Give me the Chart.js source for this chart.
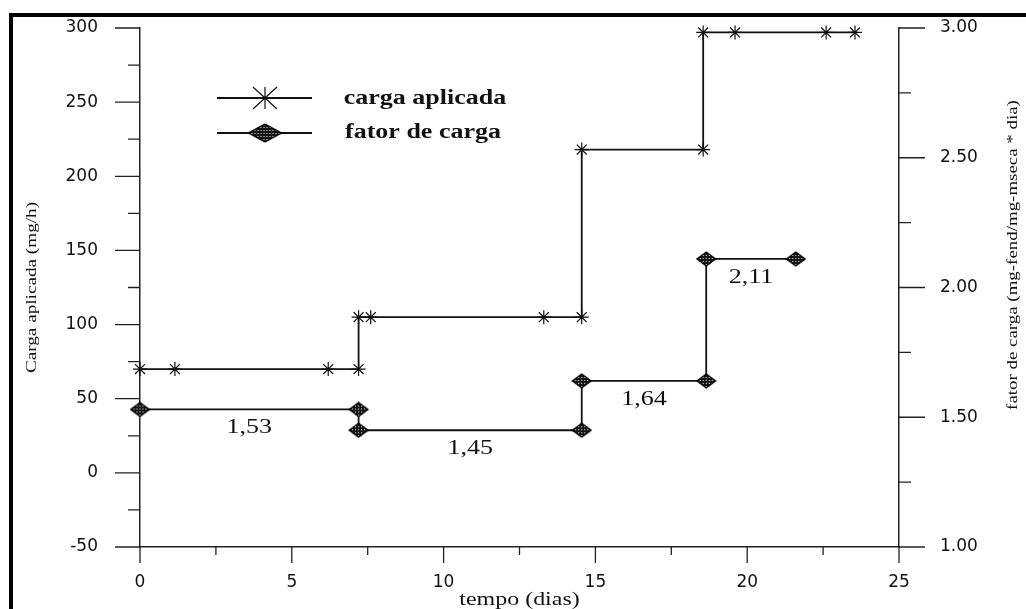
<!DOCTYPE html>
<html>
<head>
<meta charset="utf-8">
<script src="https://cdn.jsdelivr.net/npm/chart.js@4"></script>
<style>
  html, body { margin: 0; padding: 0; background: #fff; }
</style>
</head>
<body>
<canvas id="grafico" width="1026" height="609"></canvas>
<script>
// tempo (dias) e carga aplicada (mg/h)
const diasCarga = [0, 1.15, 6.2, 7.2, 7.2, 7.6, 13.3, 14.55, 14.55, 18.55, 18.55, 19.6, 22.6, 23.55];
const cargaAplicada = [70, 70, 70, 70, 105, 105, 105, 105, 218, 218, 297, 297, 297, 297];

// tempo (dias) e fator de carga
const diasFator = [0, 7.2, 7.2, 14.55, 14.55, 18.65, 18.65, 21.6];
const fatorCarga = [1.53, 1.53, 1.45, 1.45, 1.64, 1.64, 2.11, 2.11];

const ticksTempo = [0, 5, 10, 15, 20, 25];
const ticksCarga = [-50, 0, 50, 100, 150, 200, 250, 300];
const ticksFator = [1.0, 1.5, 2.0, 2.5, 3.0];

const PRETO = '#111';
const fonteNumeros = { family: 'DejaVu Sans', size: 17 };

// hachura do losango: fundo escuro com pontinhos claros
function padraoPontilhado() {
  const c = document.createElement('canvas');
  c.width = 3; c.height = 3;
  const g = c.getContext('2d');
  g.fillStyle = '#151515';
  g.fillRect(0, 0, 3, 3);
  g.fillStyle = '#e8e8e8';
  g.fillRect(1, 1, 1, 1);
  return c;
}

function losango(w, h) {
  const c = document.createElement('canvas');
  c.width = w + 2; c.height = h + 2;
  const g = c.getContext('2d');
  g.beginPath();
  g.moveTo(c.width / 2, 1);
  g.lineTo(c.width - 1, c.height / 2);
  g.lineTo(c.width / 2, c.height - 1);
  g.lineTo(1, c.height / 2);
  g.closePath();
  g.fillStyle = g.createPattern(padraoPontilhado(), 'repeat');
  g.fill();
  g.lineWidth = 1.2;
  g.strokeStyle = '#000';
  g.stroke();
  return c;
}

const marcaFator = losango(19, 14);
const marcaFatorLegenda = losango(33, 18);

function pontos(xs, ys) {
  return xs.map((x, i) => ({ x: x, y: ys[i] }));
}

function meios(lista) {
  const r = [];
  for (let i = 0; i < lista.length - 1; i++) r.push((lista[i] + lista[i + 1]) / 2);
  return r;
}

// texto esticado na horizontal, como nas letras do original impresso
function texto(ctx, s, x, y, fonte, esticar, angulo, base) {
  ctx.save();
  ctx.translate(x, y);
  ctx.rotate(angulo || 0);
  ctx.scale(esticar, 1);
  ctx.font = fonte;
  ctx.fillStyle = PRETO;
  ctx.textAlign = 'center';
  ctx.textBaseline = base || 'middle';
  ctx.fillText(s, 0, 0);
  ctx.restore();
}

function asterisco(ctx, x, y, rx, ry) {
  ctx.beginPath();
  ctx.moveTo(x - rx, y); ctx.lineTo(x + rx, y);
  ctx.moveTo(x, y - ry); ctx.lineTo(x, y + ry);
  ctx.moveTo(x - rx * 0.8, y - ry); ctx.lineTo(x + rx * 0.8, y + ry);
  ctx.moveTo(x - rx * 0.8, y + ry); ctx.lineTo(x + rx * 0.8, y - ry);
  ctx.stroke();
}

const extras = {
  id: 'extras',
  beforeDraw(chart) {
    const ctx = chart.ctx;
    // moldura grossa da página escaneada
    ctx.save();
    ctx.fillStyle = '#000';
    ctx.fillRect(9, 13, 1026 - 9, 4);
    ctx.fillRect(9, 13, 4, 609 - 13);
    ctx.restore();
  },
  afterDraw(chart) {
    const ctx = chart.ctx;
    const a = chart.chartArea;
    const sx = chart.scales.x, sc = chart.scales.yCarga, sf = chart.scales.yFator;

    // marcas dos eixos (maiores com rótulo, menores entre elas)
    ctx.save();
    ctx.strokeStyle = '#222';
    ctx.lineWidth = 1.3;
    ctx.beginPath();
    ticksCarga.forEach(v => { const y = sc.getPixelForValue(v); ctx.moveTo(a.left - 25, y); ctx.lineTo(a.left, y); });
    meios(ticksCarga).forEach(v => { const y = sc.getPixelForValue(v); ctx.moveTo(a.left - 12, y); ctx.lineTo(a.left, y); });
    ticksFator.forEach(v => { const y = sf.getPixelForValue(v); ctx.moveTo(a.right, y); ctx.lineTo(a.right + 26, y); });
    meios(ticksFator).forEach(v => { const y = sf.getPixelForValue(v); ctx.moveTo(a.right, y); ctx.lineTo(a.right + 12, y); });
    ticksTempo.forEach(v => { const x = sx.getPixelForValue(v); ctx.moveTo(x, a.bottom); ctx.lineTo(x, a.bottom + 16); });
    meios(ticksTempo).forEach(v => { const x = sx.getPixelForValue(v); ctx.moveTo(x, a.bottom); ctx.lineTo(x, a.bottom + 8); });
    ctx.stroke();
    ctx.restore();

    // valores do fator de carga sob cada patamar
    for (let i = 0; i < fatorCarga.length - 1; i += 2) {
      const x = (sx.getPixelForValue(diasFator[i]) + sx.getPixelForValue(diasFator[i + 1])) / 2;
      const y = sf.getPixelForValue(fatorCarga[i]) + 24;
      texto(ctx, fatorCarga[i].toFixed(2).replace('.', ','), x, y, '20px "Liberation Serif"', 1.3, 0, 'alphabetic');
    }

    // legenda
    ctx.save();
    ctx.strokeStyle = PRETO;
    ctx.lineWidth = 1.8;
    ctx.beginPath();
    ctx.moveTo(217, 98); ctx.lineTo(312, 98);
    ctx.moveTo(217, 133); ctx.lineTo(312, 133);
    ctx.stroke();
    ctx.lineWidth = 1.2;
    asterisco(ctx, 265, 98, 15, 11);
    ctx.drawImage(marcaFatorLegenda, 265 - marcaFatorLegenda.width / 2, 133 - marcaFatorLegenda.height / 2);
    ctx.restore();
    texto(ctx, 'carga aplicada', 343 + 82, 104, 'bold 20px "Liberation Serif"', 1.3, 0, 'alphabetic');
    texto(ctx, 'fator de carga', 343 + 80, 138, 'bold 20px "Liberation Serif"', 1.3, 0, 'alphabetic');

    // títulos dos eixos
    texto(ctx, 'tempo (dias)', (a.left + a.right) / 2, 600, '18px "Liberation Serif"', 1.33, 0, 'middle');
    texto(ctx, 'Carga aplicada (mg/h)', 32, (a.top + a.bottom) / 2, '14px "Liberation Serif"', 1.37, -Math.PI / 2, 'middle');
    texto(ctx, 'fator de carga (mg-fend/mg-mseca * dia)', 1013, 255, '14px "Liberation Serif"', 1.35, -Math.PI / 2, 'middle');
  }
};

// marcas próprias do Chart.js ficam invisíveis: só afastam os rótulos do eixo
function eixo(afastamento) {
  return {
    type: 'linear',
    grid: { display: true, drawOnChartArea: false, drawTicks: true, tickLength: afastamento, tickColor: 'rgba(0,0,0,0)' },
    border: { display: true, color: '#222', width: 1.5 }
  };
}

new Chart(document.getElementById('grafico'), {
  type: 'line',
  data: {
    datasets: [
      {
        label: 'carga aplicada',
        data: pontos(diasCarga, cargaAplicada),
        yAxisID: 'yCarga',
        borderColor: PRETO,
        borderWidth: 1.8,
        pointStyle: 'star',
        pointRadius: 7,
        pointBorderColor: PRETO,
        pointBorderWidth: 1.2,
        fill: false,
        tension: 0,
        clip: false
      },
      {
        label: 'fator de carga',
        data: pontos(diasFator, fatorCarga),
        yAxisID: 'yFator',
        borderColor: PRETO,
        borderWidth: 1.8,
        pointStyle: marcaFator,
        fill: false,
        tension: 0,
        clip: false
      }
    ]
  },
  options: {
    responsive: false,
    animation: false,
    devicePixelRatio: 1,
    layout: { padding: { left: 10, right: 0, top: 28, bottom: 0 } },
    plugins: { legend: { display: false }, tooltip: { enabled: false } },
    scales: {
      x: Object.assign(eixo(25), {
        position: 'bottom',
        min: ticksTempo[0],
        max: ticksTempo[ticksTempo.length - 1],
        afterBuildTicks: s => { s.ticks = ticksTempo.map(v => ({ value: v })); },
        afterFit: s => { s.height = 62; },
        ticks: { padding: 0, color: PRETO, font: fonteNumeros, maxRotation: 0 }
      }),
      yCarga: Object.assign(eixo(40), {
        position: 'left',
        min: ticksCarga[0],
        max: ticksCarga[ticksCarga.length - 1],
        afterBuildTicks: s => { s.ticks = ticksCarga.map(v => ({ value: v })); },
        afterFit: s => { s.width = 130; },
        ticks: { padding: 2, color: PRETO, font: fonteNumeros }
      }),
      yFator: Object.assign(eixo(39), {
        position: 'right',
        min: ticksFator[0],
        max: ticksFator[ticksFator.length - 1],
        afterBuildTicks: s => { s.ticks = ticksFator.map(v => ({ value: v })); },
        afterFit: s => { s.width = 127; },
        ticks: { padding: 2, color: PRETO, font: fonteNumeros, callback: v => Number(v).toFixed(2) }
      })
    }
  },
  plugins: [extras]
});
</script>
</body>
</html>
